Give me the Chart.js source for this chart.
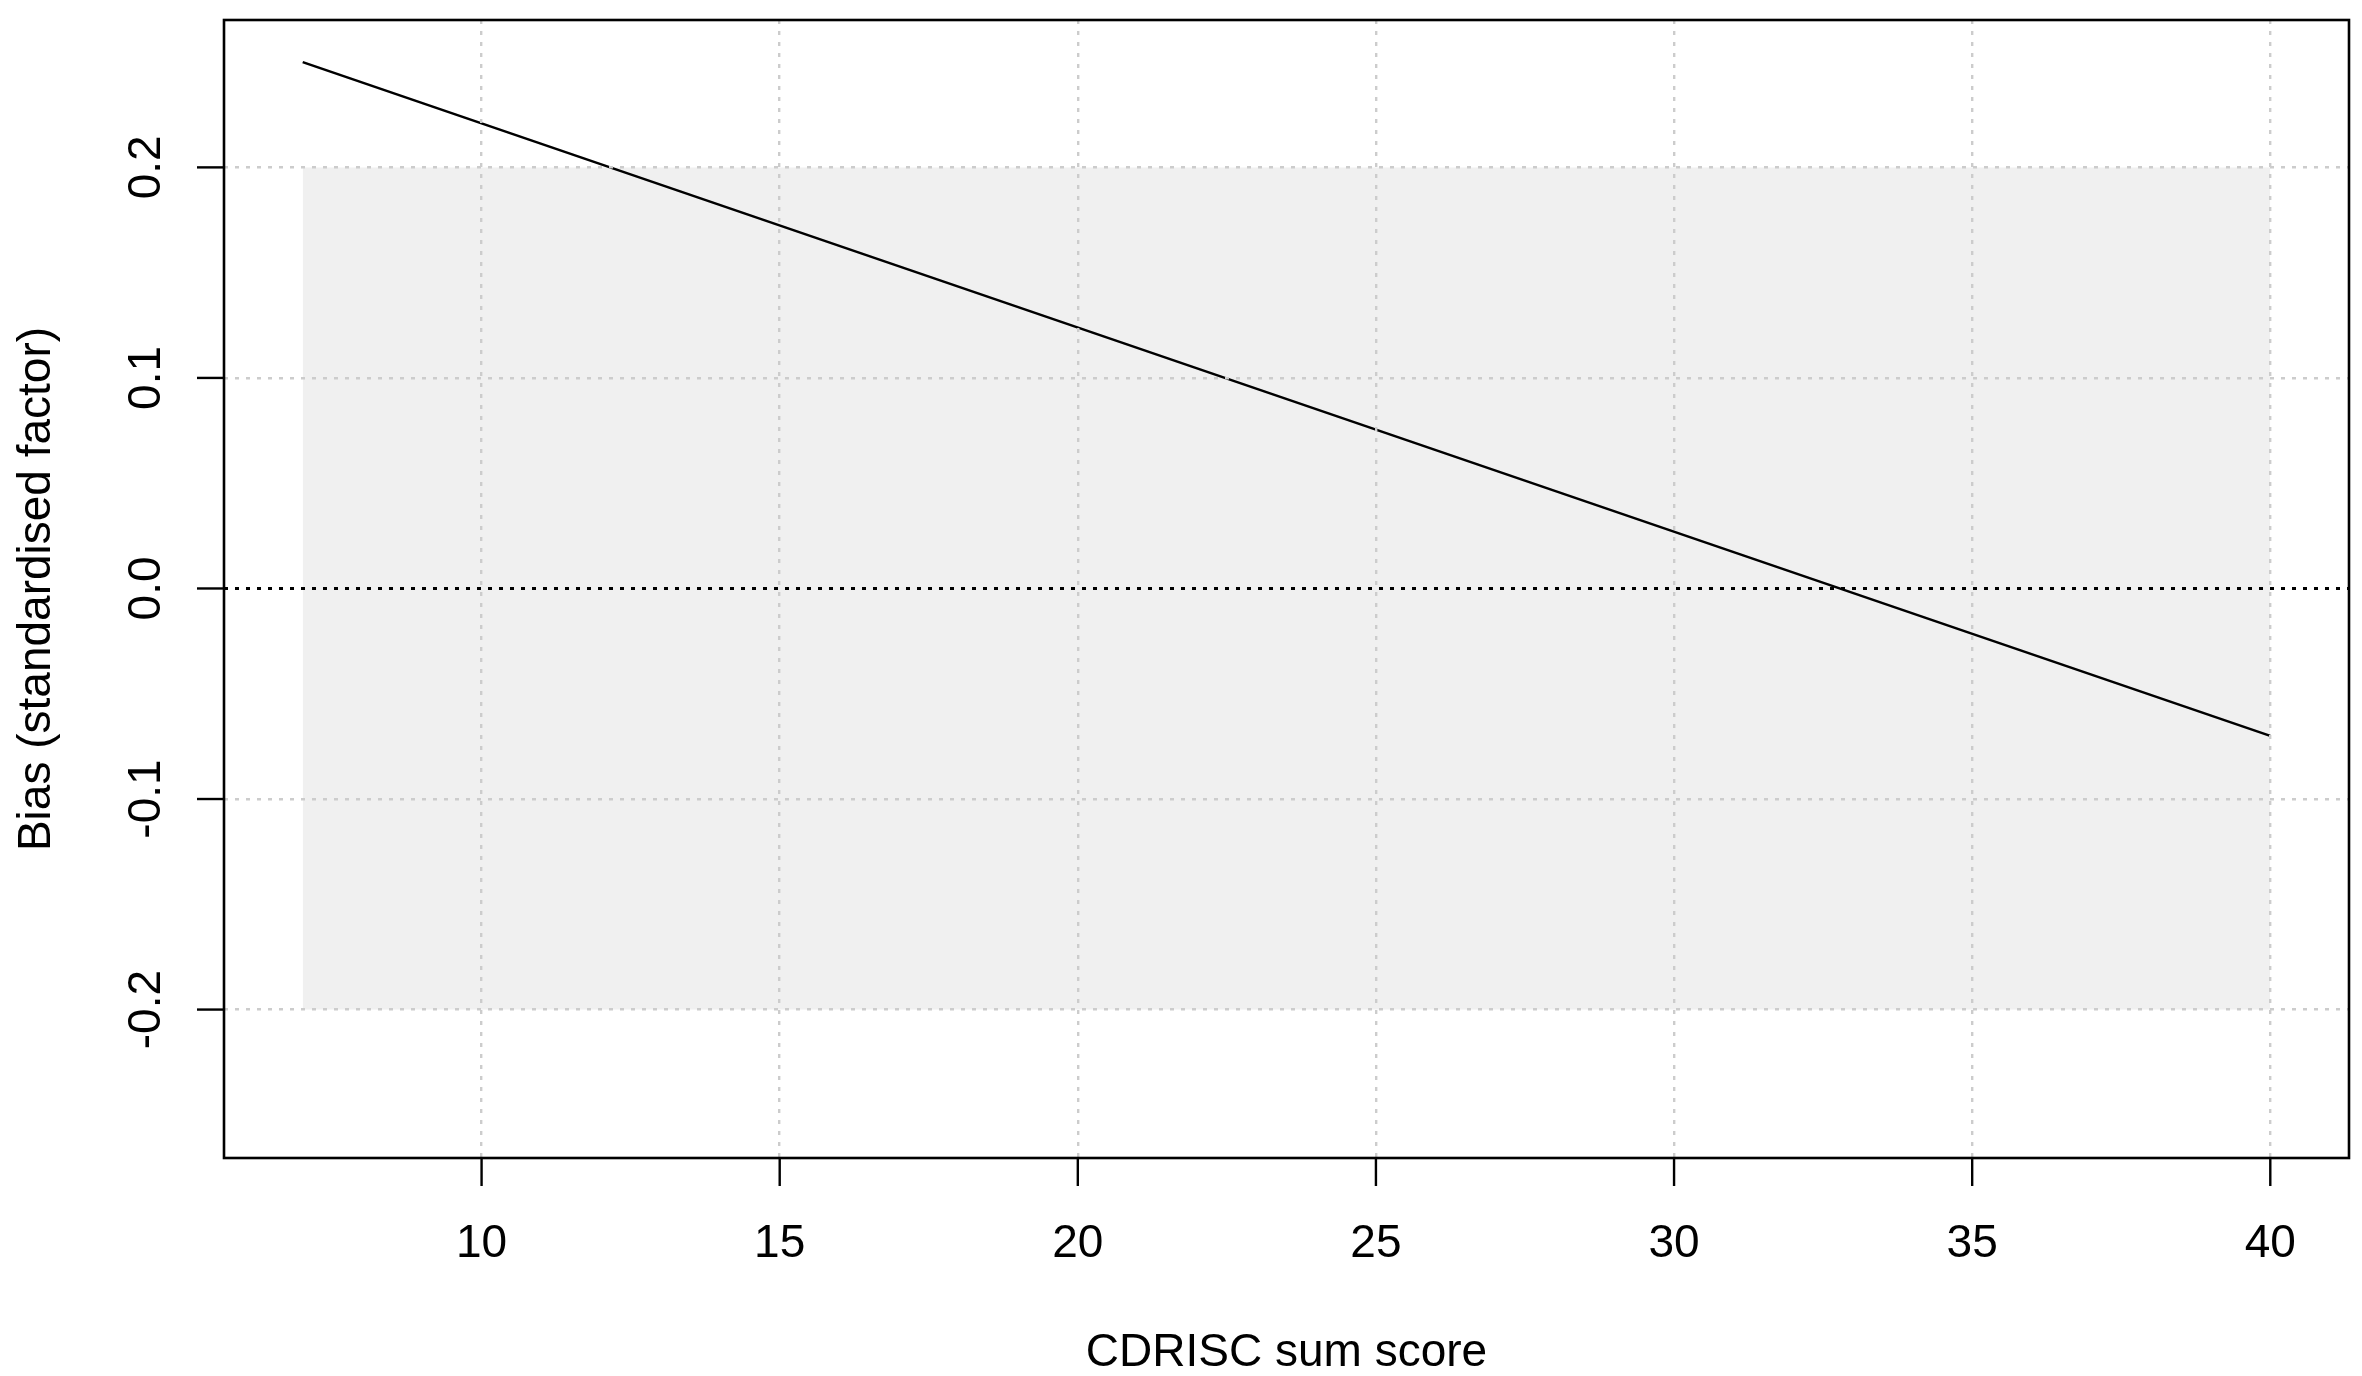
<!DOCTYPE html>
<html>
<head>
<meta charset="utf-8">
<script src="https://cdn.jsdelivr.net/npm/chart.js@4/dist/chart.umd.min.js"></script>
<style>
  html, body { margin: 0; padding: 0; background: #ffffff; }
  #wrap { width: 2362px; height: 1376px; }
</style>
</head>
<body>
<div id="wrap"><canvas id="c" width="2362" height="1376"></canvas></div>
<script>
// ---- data ----
const scoreRange = [7, 40];            // CDRISC sum score range of the curve
const biasValues = [0.25, -0.07];      // bias at the ends of the range (straight line)
const bandX = [7, 40];                 // grey band extent (x)
const bandUpper = [0.2, 0.2];          // grey band upper bound
const bandLower = -0.2;                // grey band lower bound
const xTicks = [10, 15, 20, 25, 30, 35, 40];
const yTicks = [-0.2, -0.1, 0.0, 0.1, 0.2];
const yTickLabels = ['-0.2', '-0.1', '0.0', '0.1', '0.2'];
const xLimits = [5.68, 41.32];
const yLimits = [-0.2705, 0.2700];
const xTitle = 'CDRISC sum score';
const yTitle = 'Bias (standardised factor)';

const FONT = '46px "Liberation Sans", Arial, Helvetica, sans-serif';

const axesPlugin = {
  id: 'rAxes',
  afterDraw(chart) {
    const ctx = chart.ctx;
    const a = chart.chartArea;
    const xs = chart.scales.x, ys = chart.scales.y;
    ctx.save();
    // frame
    ctx.strokeStyle = '#000';
    ctx.lineWidth = 2.6;
    ctx.strokeRect(a.left, a.top, a.right - a.left, a.bottom - a.top);
    // x ticks
    ctx.lineWidth = 2.4;
    ctx.font = FONT;
    ctx.fillStyle = '#000';
    ctx.textAlign = 'center';
    ctx.textBaseline = 'alphabetic';
    xTicks.forEach(v => {
      const px = xs.getPixelForValue(v);
      ctx.beginPath();
      ctx.moveTo(px, a.bottom);
      ctx.lineTo(px, a.bottom + 28);
      ctx.stroke();
      ctx.fillText(String(v), px, a.bottom + 99);
    });
    // y ticks
    yTicks.forEach((v, i) => {
      const py = ys.getPixelForValue(v);
      ctx.beginPath();
      ctx.moveTo(a.left, py);
      ctx.lineTo(a.left - 27, py);
      ctx.stroke();
      ctx.save();
      ctx.translate(a.left - 64, py);
      ctx.rotate(-Math.PI / 2);
      ctx.textAlign = 'center';
      ctx.fillText(yTickLabels[i], 0, 0);
      ctx.restore();
    });
    // axis titles
    ctx.textAlign = 'center';
    ctx.fillText(xTitle, (a.left + a.right) / 2, a.bottom + 208);
    ctx.save();
    ctx.translate(a.left - 174, (a.top + a.bottom) / 2);
    ctx.rotate(-Math.PI / 2);
    ctx.fillText(yTitle, 0, 0);
    ctx.restore();
    ctx.restore();
  }
};

const gridX = {
  color: '#cccccc',
  lineWidth: 2.4,
  drawTicks: false,
  z: 1
};
const gridY = {
  color: c => (c.tick && Math.abs(c.tick.value) < 1e-9) ? 'rgba(0,0,0,0)' : '#cccccc',
  lineWidth: 2.4,
  drawTicks: false,
  z: 1
};

new Chart(document.getElementById('c'), {
  type: 'line',
  data: {
    datasets: [
      {
        label: 'band',
        data: bandX.map((x, i) => ({ x: x, y: bandUpper[i] })),
        borderWidth: 0,
        borderColor: 'rgba(0,0,0,0)',
        backgroundColor: '#f0f0f0',
        fill: { value: bandLower },
        pointRadius: 0,
        order: 3
      },
      {
        label: 'zero',
        data: xLimits.map(x => ({ x: x, y: 0 })),
        borderColor: '#000000',
        borderWidth: 3,
        borderDash: [4, 7],
        fill: false,
        pointRadius: 0,
        order: 2
      },
      {
        label: 'bias',
        data: scoreRange.map((x, i) => ({ x: x, y: biasValues[i] })),
        borderColor: '#000000',
        borderWidth: 2.6,
        fill: false,
        pointRadius: 0,
        order: 1
      }
    ]
  },
  options: {
    responsive: false,
    devicePixelRatio: 1,
    animation: false,
    events: [],
    layout: { padding: { left: 224, top: 20, right: 13, bottom: 218 } },
    plugins: { legend: { display: false }, tooltip: { enabled: false }, filler: { propagate: false } },
    scales: {
      x: {
        type: 'linear',
        min: xLimits[0], max: xLimits[1],
        afterBuildTicks: s => { s.ticks = xTicks.map(v => ({ value: v })); },
        ticks: { display: false },
        border: { display: false, dash: [4, 7] },
        grid: gridX
      },
      y: {
        type: 'linear',
        min: yLimits[0], max: yLimits[1],
        afterBuildTicks: s => { s.ticks = yTicks.map(v => ({ value: v })); },
        ticks: { display: false },
        border: { display: false, dash: [4, 7] },
        grid: gridY
      }
    }
  },
  plugins: [axesPlugin]
});
</script>
</body>
</html>
